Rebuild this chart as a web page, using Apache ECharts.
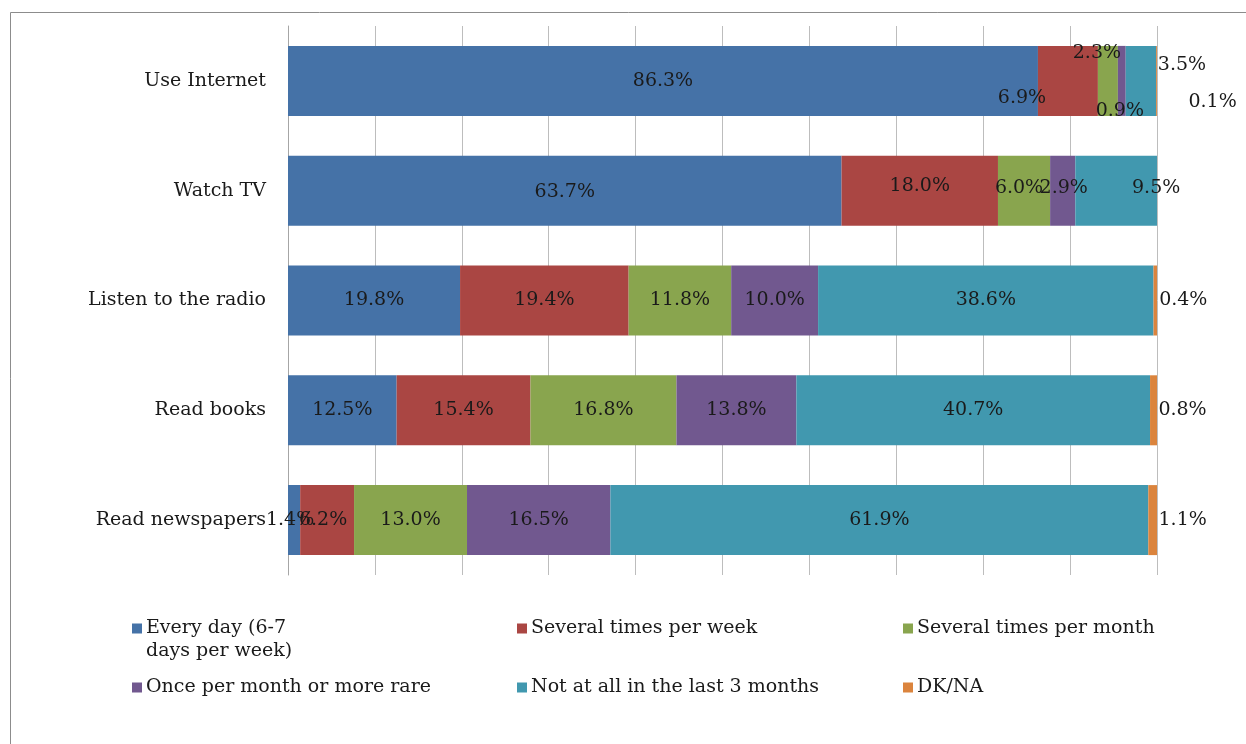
<!DOCTYPE html>
<html><head><meta charset="utf-8">
<script src="https://cdn.jsdelivr.net/npm/echarts@6/dist/echarts.min.js"></script>
<style>html,body{margin:0;padding:0;background:#fff}#c{width:1246px;height:744px}</style>
</head><body><div id="c"></div>
<script>
var categories = ['Use Internet', 'Watch TV', 'Listen to the radio', 'Read books', 'Read newspapers'];
var seriesNames = ['Every day (6-7 days per week)', 'Several times per week', 'Several times per month', 'Once per month or more rare', 'Not at all in the last 3 months', 'DK/NA'];
var everyDay = [86.3, 63.7, 19.8, 12.5, 1.4];
var severalWeek = [6.9, 18.0, 19.4, 15.4, 6.2];
var severalMonth = [2.3, 6.0, 11.8, 16.8, 13.0];
var oncePerMonth = [0.9, 2.9, 10.0, 13.8, 16.5];
var notAtAll = [3.5, 9.5, 38.6, 40.7, 61.9];
var dkna = [0.1, 0, 0.4, 0.8, 1.1];

var values = [everyDay, severalWeek, severalMonth, oncePerMonth, notAtAll, dkna];
var colors = ['#4572A7', '#AA4643', '#89A54E', '#71588F', '#4198AF', '#DB843D'];
// label offsets [series][category]
var offsets = [
  [[0,0],[0,1],[0,0],[0,0],[-4,0]],
  [[-46,17],[0,-5],[0,0],[0,0],[-4,0]],
  [[-11,-28],[-5,-3],[0,0],[0,0],[0,0]],
  [[-2,30],[1,-3],[0,0],[0,0],[0,0]],
  [[41,-16],[40,-3],[0,0],[0,0],[0,0]],
  [[56,21],[0,0],[28,0],[29,0],[30,0]]
];
var FONT = 'DejaVu Serif';

var series = values.map(function (arr, si) {
  return {
    name: seriesNames[si],
    type: 'bar',
    stack: 'total',
    barWidth: 70,
    itemStyle: { color: colors[si] },
    label: {
      show: true, position: 'inside', color: '#1a1a1a',
      fontFamily: FONT, fontSize: 19,
      formatter: function (p) { return p.value > 0 ? p.value.toFixed(1) + '%' : ''; }
    },
    data: arr.map(function (v, ci) {
      return { value: v, label: { offset: offsets[si][ci] } };
    })
  };
});

var legendPos = [[127, 614], [512, 614], [898, 614], [127, 673], [512, 673], [898, 673]];
var legends = seriesNames.map(function (n, i) {
  return {
    data: [n], left: legendPos[i][0], top: legendPos[i][1],
    itemWidth: 10, itemHeight: 10, itemGap: 0, icon: 'rect',
    selectedMode: false,
    textStyle: { fontFamily: FONT, fontSize: 19, color: '#1a1a1a', padding: [0, 0, 0, -1] },
    formatter: function (name) { return i === 0 ? 'Every day (6-7' : name; }
  };
});

var chart = echarts.init(document.getElementById('c'), null, { renderer: 'canvas' });
chart.setOption({
  animation: false,
  backgroundColor: '#fff',
  grid: { left: 288, right: 89, top: 26, bottom: 169 },
  legend: legends,
  xAxis: {
    type: 'value', min: 0, max: 100, interval: 10,
    axisLabel: { show: false }, axisTick: { show: false }, axisLine: { show: false },
    splitLine: { lineStyle: { color: '#bdbdbd', width: 1 } }
  },
  yAxis: {
    type: 'category', data: categories, inverse: true,
    axisLine: { lineStyle: { color: '#a6a6a6' } },
    axisTick: { length: 5, lineStyle: { color: '#a6a6a6' } },
    axisLabel: { fontFamily: FONT, fontSize: 19, color: '#1a1a1a', margin: 22 }
  },
  graphic: [
    { type: 'rect', shape: { x: 10.5, y: 12.5, width: 1300, height: 800 },
      style: { fill: 'none', stroke: '#8c8c8c', lineWidth: 1 }, z: -1 },
    { type: 'text', left: 146, top: 642,
      style: { text: 'days per week)', font: '19px "DejaVu Serif"', fill: '#1a1a1a' } }
  ],
  series: series
});
</script></body></html>
